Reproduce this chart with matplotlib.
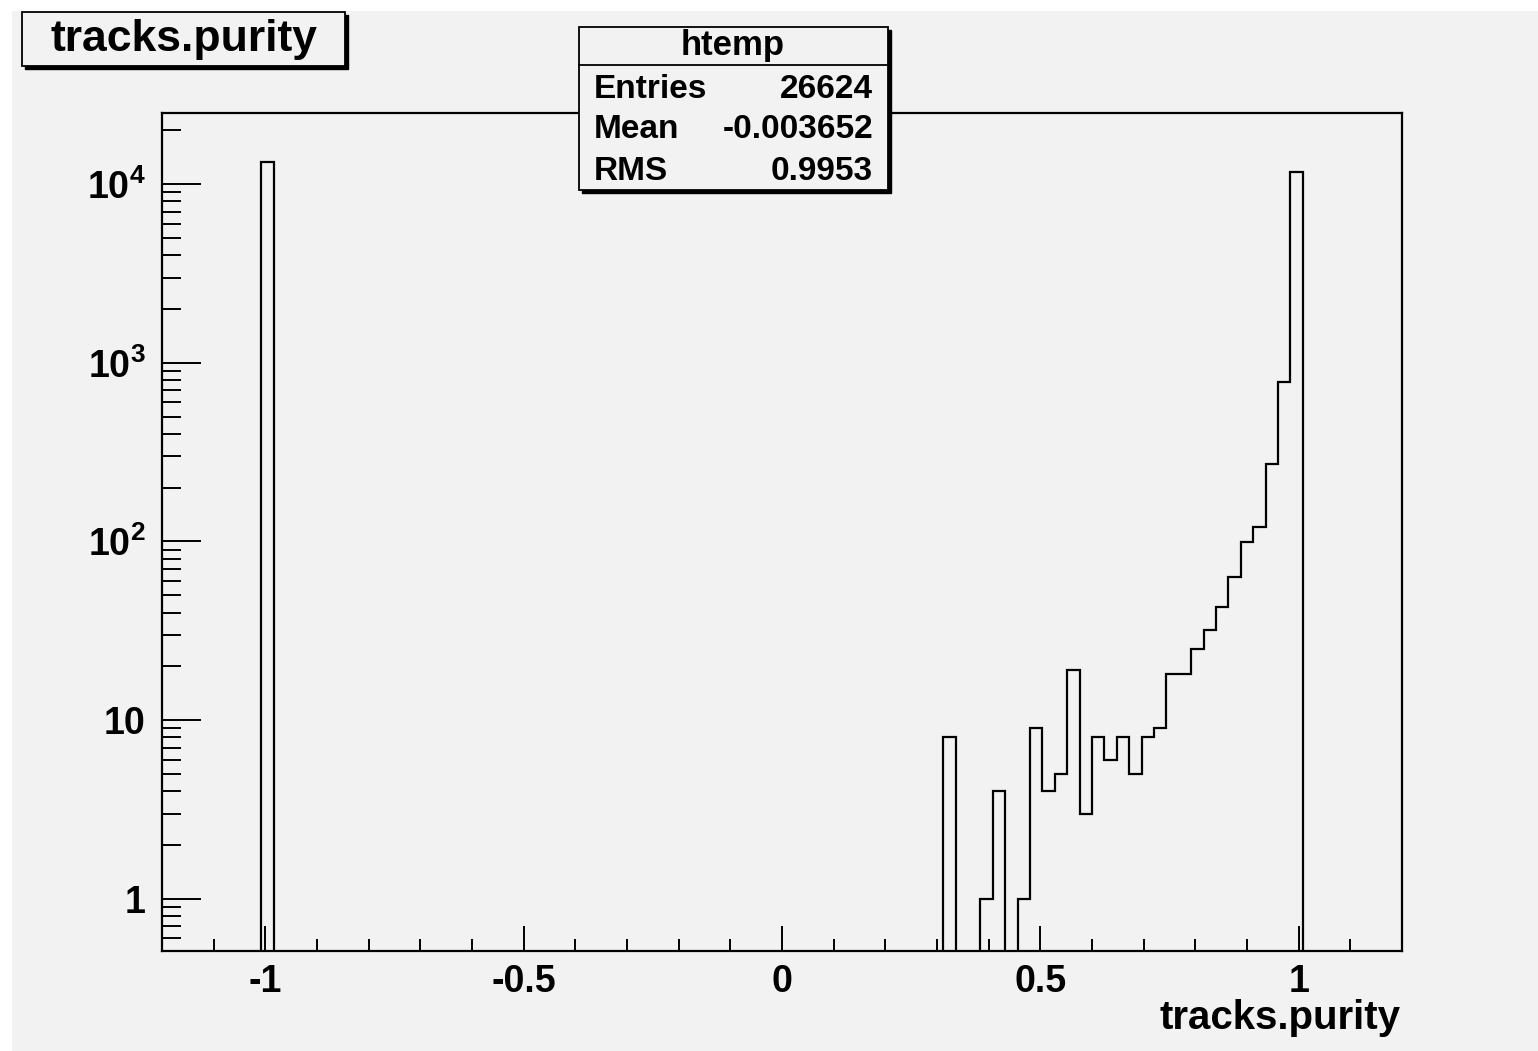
import numpy as np
import matplotlib
matplotlib.use('Agg')
from matplotlib import pyplot as plt
from matplotlib.patches import Rectangle
from matplotlib.ticker import FixedLocator, FixedFormatter, MultipleLocator, LogLocator, NullFormatter

plt.rcParams['font.family'] = ['Liberation Sans', 'DejaVu Sans']
plt.rcParams['font.weight'] = 'bold'
plt.rcParams['mathtext.fontset'] = 'custom'
plt.rcParams['mathtext.rm'] = 'Liberation Sans:bold'
plt.rcParams['mathtext.bf'] = 'Liberation Sans:bold'

# histogram: 100 bins from -1.2 to 1.2, only non-empty bins listed
nbins = 100
x_low, x_up = -1.2, 1.2
filled_bins = [8, 63, 66, 67, 69, 70, 71, 72, 73, 74, 75, 76, 77, 78, 79, 80,
               81, 82, 83, 84, 85, 86, 87, 88, 89, 90, 91]
bin_counts = [13298, 8, 1, 4, 1, 9, 4, 5, 19, 3, 8, 6, 8, 5, 8, 9,
              18, 18, 25, 32, 43, 63, 99, 121, 270, 780, 11760]

x_ticks = [-1, -0.5, 0, 0.5, 1]
x_tick_labels = ['-1', '-0.5', '0', '0.5', '1']
y_ticks = [1, 10, 100, 1000, 10000]
y_tick_labels = ['1', '10', r'$10^{2}$', r'$10^{3}$', r'$10^{4}$']

stat_names = ['Entries', 'Mean', 'RMS']
stat_values = ['26624', '-0.003652', '0.9953']

W, H = 1538, 1051
grey = '#f2f2f2'

edges = np.linspace(x_low, x_up, nbins + 1)
counts = np.zeros(nbins)
counts[filled_bins] = bin_counts
counts_plot = np.where(counts > 0, counts, 1e-3)  # empty bins go below the axis

fig = plt.figure(figsize=(W / 100, H / 100), dpi=100, facecolor='white')
fig.add_artist(Rectangle((12 / W, 0), 1 - 12 / W, 1 - 11 / H, transform=fig.transFigure,
                         facecolor=grey, edgecolor='none', zorder=-10))

ax = fig.add_axes([162 / W, 1 - 951 / H, (1402 - 162) / W, (951 - 113) / H])
ax.set_facecolor(grey)
ax.stairs(counts_plot, edges, baseline=1e-3, color='black', linewidth=1.6)
ax.set_yscale('log')
ax.set_xlim(x_low, x_up)
ax.set_ylim(0.51, 25000)

for s in ax.spines.values():
    s.set_linewidth(1.6)

ax.xaxis.set_major_locator(FixedLocator(x_ticks))
ax.xaxis.set_major_formatter(FixedFormatter(x_tick_labels))
ax.xaxis.set_minor_locator(MultipleLocator(0.1))
ax.yaxis.set_major_locator(FixedLocator(y_ticks))
ax.yaxis.set_major_formatter(FixedFormatter(y_tick_labels))
ax.yaxis.set_minor_locator(LogLocator(base=10, subs=np.arange(2, 10), numticks=20))
ax.yaxis.set_minor_formatter(NullFormatter())

ax.tick_params(axis='x', which='major', direction='in', length=18, width=1.4,
               labelsize=27, pad=9, top=False)
ax.tick_params(axis='x', which='minor', direction='in', length=9, width=1.4, top=False)
ax.tick_params(axis='y', which='major', direction='in', length=28, width=1.4,
               labelsize=27, pad=12, right=False)
ax.tick_params(axis='y', which='minor', direction='in', length=14, width=1.4, right=False)
for lbl in ax.get_xticklabels() + ax.get_yticklabels():
    lbl.set_fontweight('bold')

# overlay in pixel coordinates for the boxes and titles
ov = fig.add_axes([0, 0, 1, 1], zorder=5)
ov.set_xlim(0, W)
ov.set_ylim(H, 0)
ov.axis('off')
ov.patch.set_visible(False)


def shadow_box(x0, y0, x1, y1):
    ov.add_patch(Rectangle((x0 + 3, y0 + 3), x1 - x0, y1 - y0, facecolor='black', edgecolor='black'))
    ov.add_patch(Rectangle((x0, y0), x1 - x0, y1 - y0, facecolor=grey, edgecolor='black', linewidth=1.3))


# title box
shadow_box(22, 12, 345, 66)
ov.text(184, 39, 'tracks.purity', fontsize=32, fontweight='bold', ha='center', va='center')

# stats box
shadow_box(579, 27, 888, 190)
ov.plot([579, 888], [65, 65], color='black', linewidth=1.3)
ov.text(733, 45, 'htemp', fontsize=25, fontweight='bold', ha='center', va='center')
row_y = [89, 129, 171]
for name, val, yy in zip(stat_names, stat_values, row_y):
    ov.text(594, yy, name, fontsize=24, fontweight='bold', ha='left', va='center')
    ov.text(873, yy, val, fontsize=24, fontweight='bold', ha='right', va='center')

# x axis title
ov.text(1400, 1018, 'tracks.purity', fontsize=29, fontweight='bold', ha='right', va='center')

fig.savefig('out.png', dpi=100, facecolor=fig.get_facecolor())
